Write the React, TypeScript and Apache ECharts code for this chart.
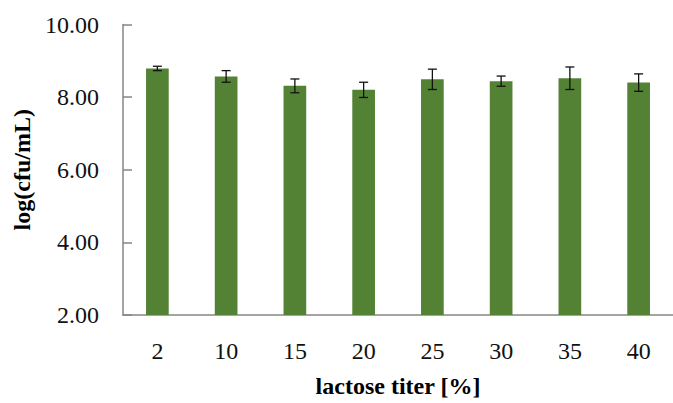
import React, { useEffect, useRef } from "react";
import * as echarts from "echarts";

const categories = ["2", "10", "15", "20", "25", "30", "35", "40"];
const meanValues = [8.79, 8.57, 8.31, 8.2, 8.49, 8.44, 8.52, 8.4];
const errValues = [0.06, 0.16, 0.19, 0.21, 0.28, 0.14, 0.31, 0.24];
const yTicks = { min: 2, max: 10, interval: 2 };

const FONT = "'Liberation Serif', 'DejaVu Serif', serif";

export default function App() {
  const ref = useRef<HTMLDivElement>(null);
  useEffect(() => {
    if (!ref.current) return;
    const chart = echarts.init(ref.current, undefined, { renderer: "svg" });
    const errData = categories.map((_, i) => [i, meanValues[i] - errValues[i], meanValues[i] + errValues[i]]);
    chart.setOption({
      animation: false,
      backgroundColor: "#ffffff",
      grid: { left: 123, right: -8, top: 24.5, bottom: 83.5, containLabel: false },
      xAxis: {
        type: "category",
        data: categories,
        name: "lactose titer [%]",
        nameLocation: "middle",
        nameGap: 59,
        nameTextStyle: { fontFamily: FONT, fontWeight: "bold", fontSize: 24, color: "#000" },
        axisLine: { lineStyle: { color: "#868686", width: 1.5 } },
        axisTick: { show: false },
        axisLabel: { fontFamily: FONT, fontSize: 24, color: "#111", margin: 24 },
      },
      yAxis: {
        type: "value",
        min: yTicks.min,
        max: yTicks.max,
        interval: yTicks.interval,
        name: "log(cfu/mL)",
        nameLocation: "middle",
        nameGap: 86,
        nameTextStyle: { fontFamily: FONT, fontWeight: "bold", fontSize: 24, color: "#000" },
        axisLine: { show: true, lineStyle: { color: "#868686", width: 1.5 } },
        axisTick: { show: true, inside: true, length: 9, lineStyle: { color: "#868686", width: 1.5 } },
        splitLine: { show: false },
        axisLabel: {
          fontFamily: FONT,
          fontSize: 24,
          color: "#111",
          margin: 24,
          formatter: (v: number) => v.toFixed(2),
        },
      },
      series: [
        {
          type: "bar",
          data: meanValues,
          barWidth: "33%",
          itemStyle: { color: "#548235" },
        },
        {
          type: "custom",
          data: errData,
          z: 10,
          renderItem: (params: any, api: any) => {
            const x = api.value(0);
            const lo = api.coord([x, api.value(1)]);
            const hi = api.coord([x, api.value(2)]);
            const hw = 4.5;
            const style = { stroke: "#111", lineWidth: 1.3 };
            return {
              type: "group",
              children: [
                { type: "line", shape: { x1: lo[0], y1: lo[1], x2: hi[0], y2: hi[1] }, style },
                { type: "line", shape: { x1: lo[0] - hw, y1: lo[1], x2: lo[0] + hw, y2: lo[1] }, style },
                { type: "line", shape: { x1: hi[0] - hw, y1: hi[1], x2: hi[0] + hw, y2: hi[1] }, style },
              ],
            };
          },
        },
      ],
    });
    return () => chart.dispose();
  }, []);
  return (
    <div
      ref={ref}
      style={{ position: "fixed", left: 0, top: 0, width: 673, height: 403, overflow: "hidden" }}
    />
  );
}
